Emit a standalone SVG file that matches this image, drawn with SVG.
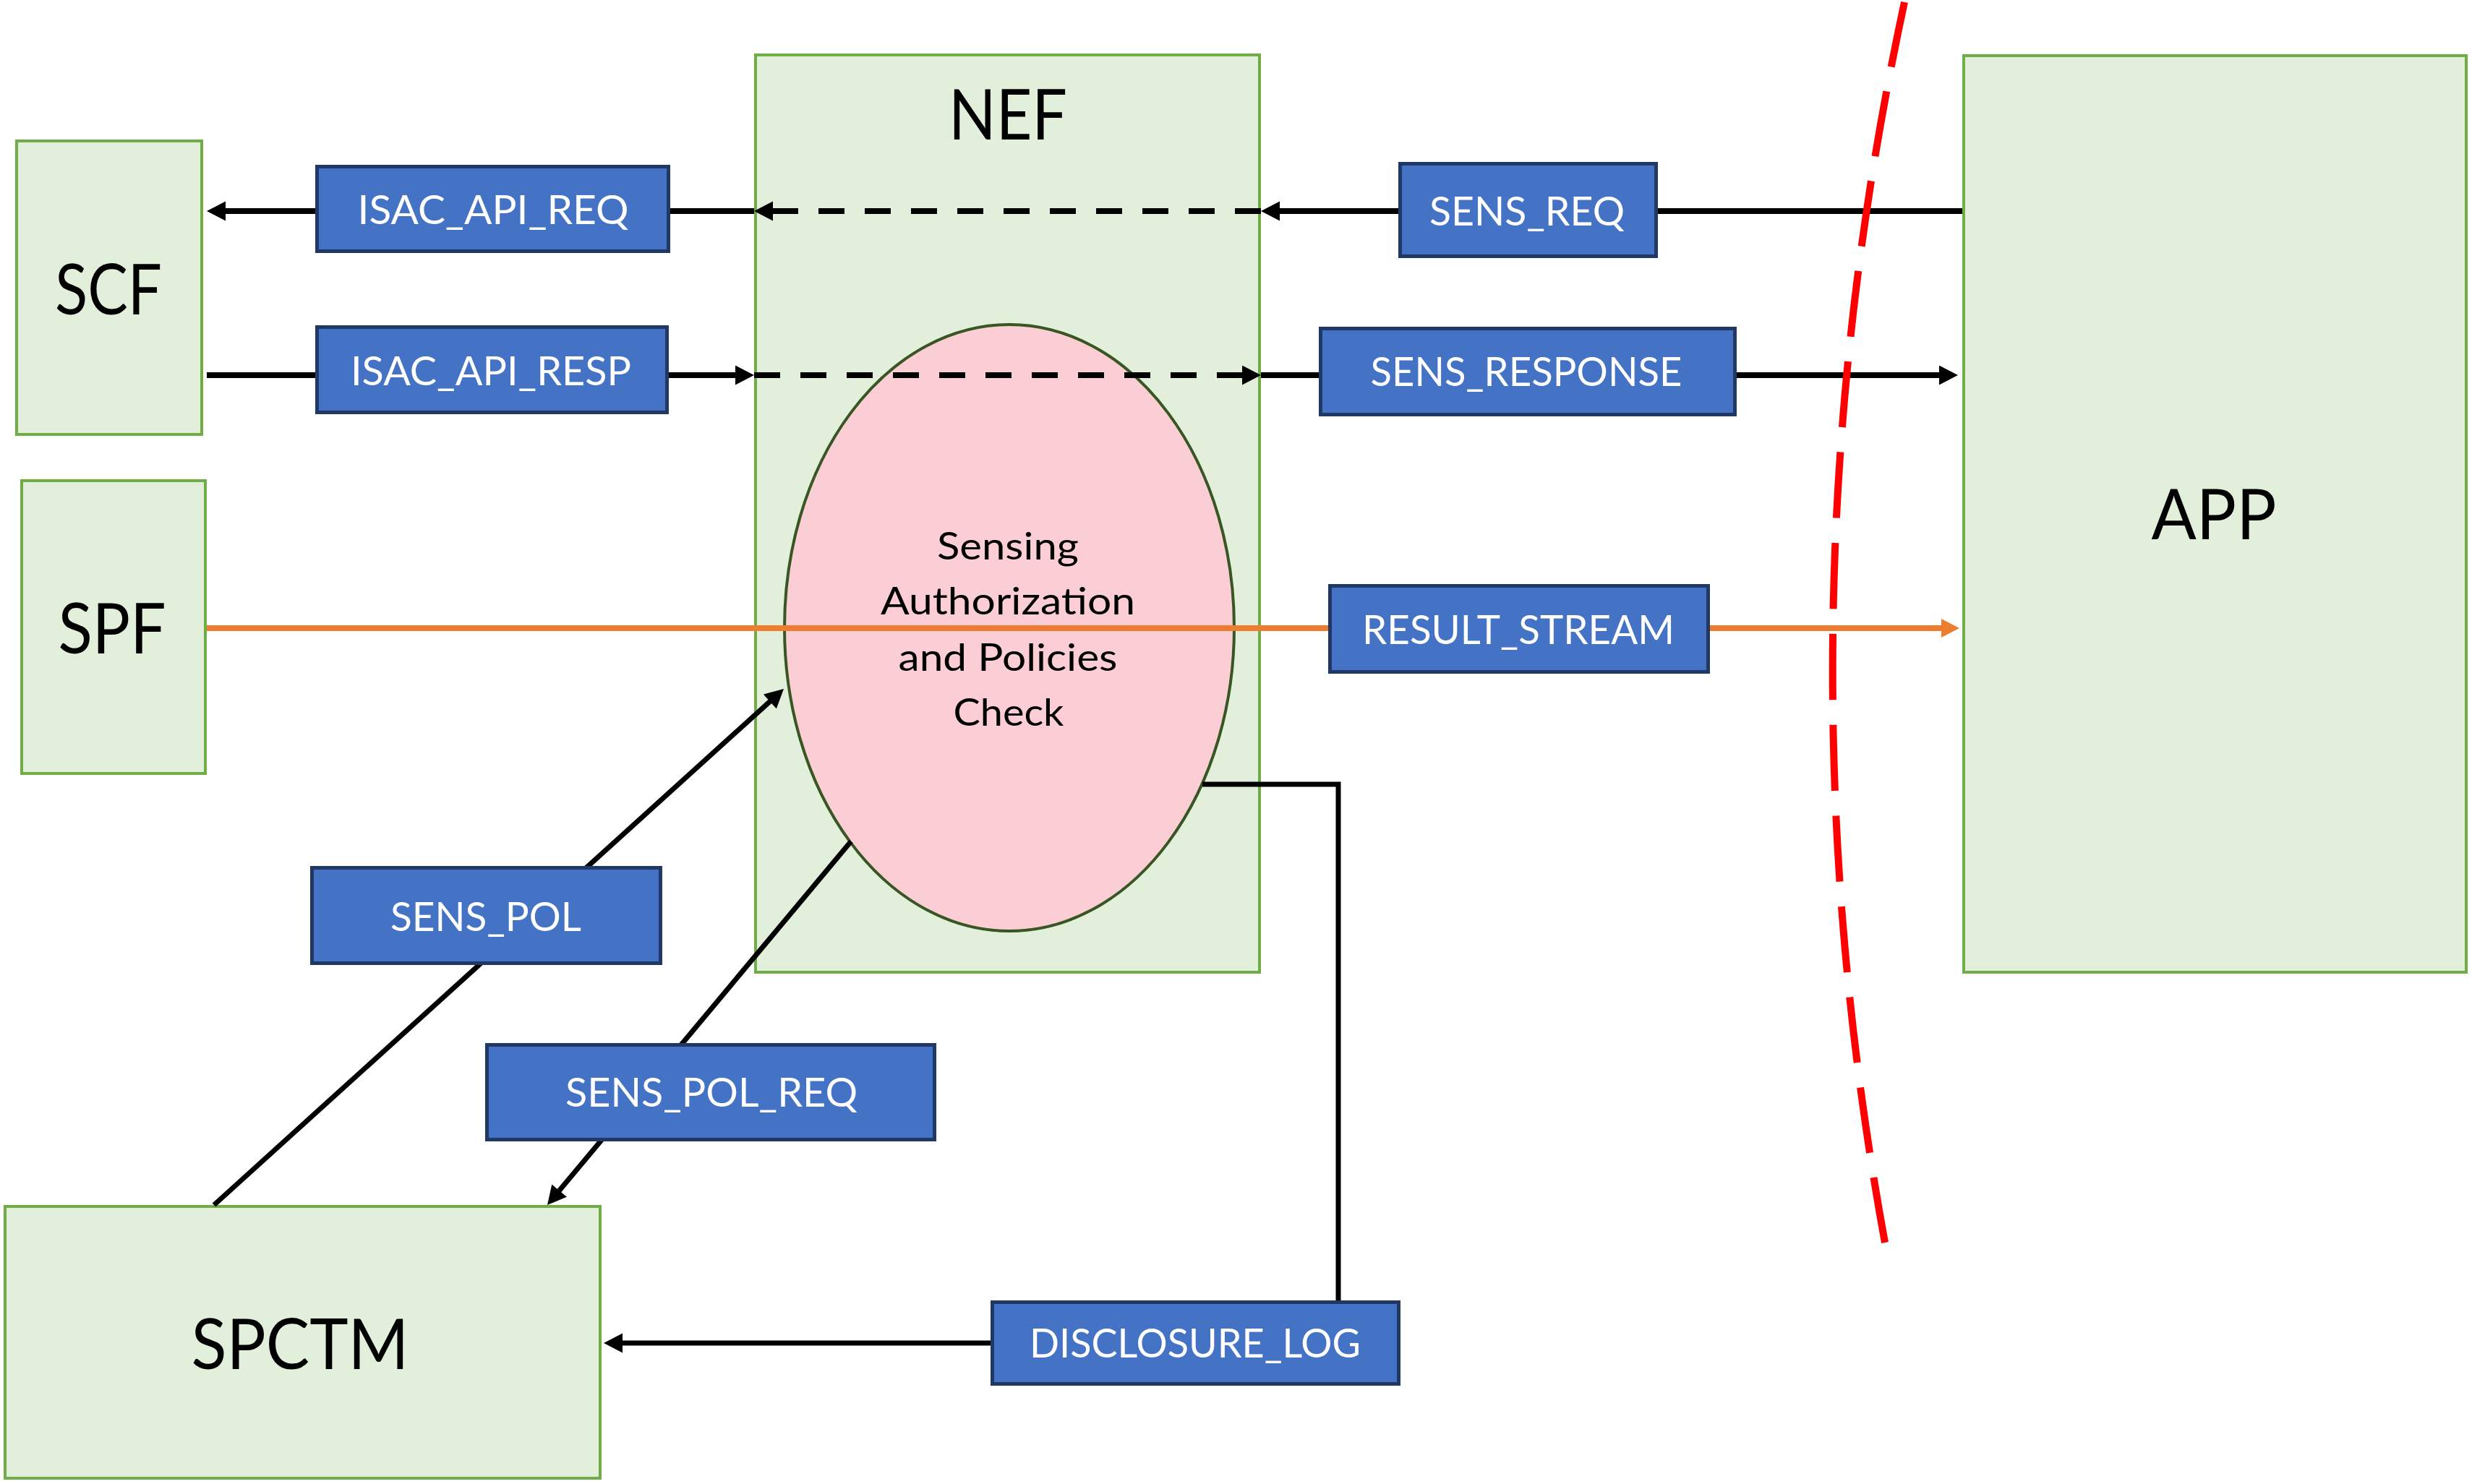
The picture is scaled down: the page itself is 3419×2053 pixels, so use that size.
<svg xmlns="http://www.w3.org/2000/svg" width="3419" height="2053" viewBox="0 0 3419 2053">
<style>
.node{fill:#E2EFDA;stroke:#70AD47;stroke-width:4}
.big{font-family:Lato,"Open Sans","Liberation Sans",sans-serif;font-size:96px;fill:#000;text-anchor:middle}
.lbl{fill:#4472C4;stroke:#1F3864;stroke-width:5}
.lt{font-family:Lato,"Open Sans","Liberation Sans",sans-serif;font-size:57px;fill:#fff;text-anchor:middle}
.et{font-family:Lato,"Open Sans","Liberation Sans",sans-serif;font-size:53px;fill:#000;text-anchor:middle}
.ln{fill:none;stroke:#000;stroke-width:8}
.dash{stroke-dasharray:36 28}
.thin{stroke-width:7}
.or{fill:none;stroke:#ED7D31;stroke-width:8}
</style>
<defs>
<marker id="ah" markerUnits="userSpaceOnUse" markerWidth="30" markerHeight="30" refX="4" refY="13.5" orient="auto">
<path d="M0,0 L26,13.5 L0,27 Z" fill="#000"/>
</marker>
<marker id="aho" markerUnits="userSpaceOnUse" markerWidth="30" markerHeight="30" refX="4" refY="13" orient="auto">
<path d="M0,0 L25,13 L0,26 Z" fill="#ED7D31"/>
</marker>
</defs>
<rect width="3419" height="2053" fill="#fff"/>
<g id="nodes">
<g id="SCF"><rect class="node" x="23" y="195" width="256" height="406"/><text class="big" x="150" y="435" textLength="148" lengthAdjust="spacingAndGlyphs">SCF</text></g>
<g id="SPF"><rect class="node" x="30" y="665" width="254" height="405"/><text class="big" x="155" y="904" textLength="149" lengthAdjust="spacingAndGlyphs">SPF</text></g>
<g id="NEF"><rect class="node" x="1045" y="76" width="697" height="1269"/><text class="big" x="1394" y="193" textLength="164" lengthAdjust="spacingAndGlyphs">NEF</text></g>
<g id="APP"><rect class="node" x="2716" y="77" width="695" height="1268"/><text class="big" x="3062" y="746" textLength="173" lengthAdjust="spacingAndGlyphs">APP</text></g>
<g id="SPCTM"><rect class="node" x="7" y="1669" width="823" height="376"/><text class="big" x="415" y="1894" textLength="301" lengthAdjust="spacingAndGlyphs">SPCTM</text></g>
<g id="CHECK"><ellipse cx="1396" cy="868.5" rx="311" ry="419.5" fill="#FBCDD4" stroke="#375623" stroke-width="4"/>
<text class="et" x="1394" y="774" textLength="196" lengthAdjust="spacingAndGlyphs">Sensing</text>
<text class="et" x="1394" y="850" textLength="352" lengthAdjust="spacingAndGlyphs">Authorization</text>
<text class="et" x="1394" y="928" textLength="303" lengthAdjust="spacingAndGlyphs">and Policies</text>
<text class="et" x="1395" y="1004" textLength="153" lengthAdjust="spacingAndGlyphs">Check</text></g>
</g>
<g id="connectors">
<path class="ln" d="M2714,292 H1766" marker-end="url(#ah)"/>
<path class="ln dash" d="M1744,292 H1065" marker-end="url(#ah)"/>
<path class="ln" d="M1043,292 H308" marker-end="url(#ah)"/>
<path class="ln" d="M286,519 H1021" marker-end="url(#ah)"/>
<path class="ln dash" d="M1043,519 H1722" marker-end="url(#ah)"/>
<path class="ln" d="M1744,519 H2686" marker-end="url(#ah)"/>
<path class="or" d="M286,869 H2689" marker-end="url(#aho)"/>
<path class="ln thin" d="M296,1667 L1067.7,967.8" marker-end="url(#ah)"/>
<path class="ln thin" d="M1177,1164 L771.1,1650.1" marker-end="url(#ah)"/>
<path class="ln thin" d="M1663,1085 H1851 V1858 H857" marker-end="url(#ah)"/>
</g>
<g id="labels">
<g id="L_ISAC_API_REQ"><rect class="lbl" x="438.5" y="230.5" width="486" height="117"/><text class="lt" x="682" y="310" textLength="375" lengthAdjust="spacingAndGlyphs">ISAC_API_REQ</text></g>
<g id="L_ISAC_API_RESP"><rect class="lbl" x="438.5" y="452.5" width="484" height="118"/><text class="lt" x="679" y="533" textLength="388" lengthAdjust="spacingAndGlyphs">ISAC_API_RESP</text></g>
<g id="L_SENS_REQ"><rect class="lbl" x="1936.5" y="226.5" width="354" height="128"/><text class="lt" x="2112" y="312" textLength="270" lengthAdjust="spacingAndGlyphs">SENS_REQ</text></g>
<g id="L_SENS_RESPONSE"><rect class="lbl" x="1826.5" y="454.5" width="573" height="119"/><text class="lt" x="2111" y="534" textLength="431" lengthAdjust="spacingAndGlyphs">SENS_RESPONSE</text></g>
<g id="L_RESULT_STREAM"><rect class="lbl" x="1839.5" y="810.5" width="523" height="119"/><text class="lt" x="2100" y="891" textLength="432" lengthAdjust="spacingAndGlyphs">RESULT_STREAM</text></g>
<g id="L_SENS_POL"><rect class="lbl" x="431.5" y="1200.5" width="482" height="132"/><text class="lt" x="672" y="1288" textLength="264" lengthAdjust="spacingAndGlyphs">SENS_POL</text></g>
<g id="L_SENS_POL_REQ"><rect class="lbl" x="673.5" y="1445.5" width="619" height="131"/><text class="lt" x="984" y="1531" textLength="404" lengthAdjust="spacingAndGlyphs">SENS_POL_REQ</text></g>
<g id="L_DISCLOSURE_LOG"><rect class="lbl" x="1372.5" y="1801.5" width="562" height="113"/><text class="lt" x="1653" y="1878" textLength="458" lengthAdjust="spacingAndGlyphs">DISCLOSURE_LOG</text></g>
</g>
<path id="boundary" d="M2607,1719 Q2450,860 2634,3" pathLength="1000" fill="none" stroke="#FF0000" stroke-width="10" stroke-dasharray="52.88 19.98"/>
</svg>
